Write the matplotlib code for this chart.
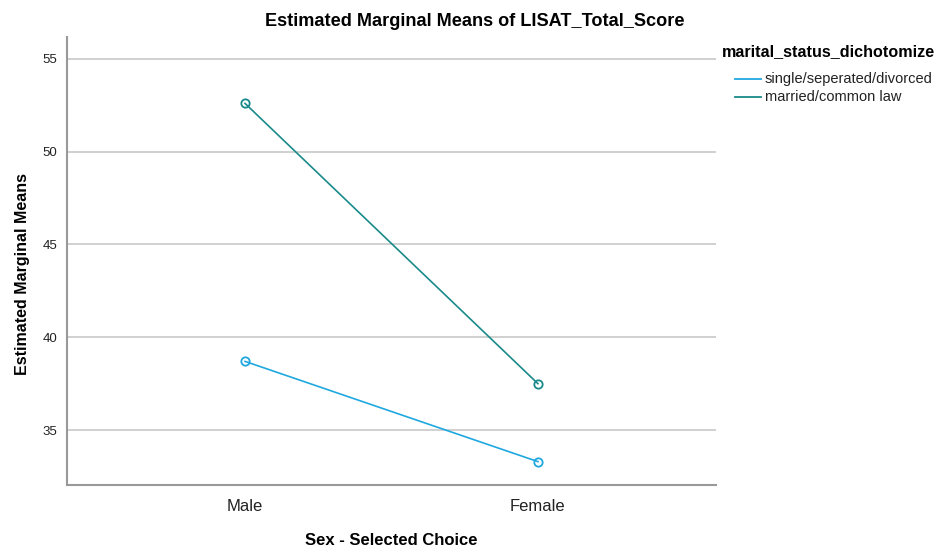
import matplotlib
matplotlib.use("Agg")
import matplotlib.pyplot as plt
from matplotlib.lines import Line2D

plt.rcParams['font.family'] = ['Liberation Sans', 'DejaVu Sans']

categories = ["Male", "Female"]
series_names = ["single/seperated/divorced", "married/common law"]
single_vals = [38.7, 33.3]
married_vals = [52.6, 37.5]
yticks = [35, 40, 45, 50, 55]

colors = ["#1FA8E0", "#1A8A8A"]

fig = plt.figure(figsize=(9.49, 5.49), dpi=100)
ax = fig.add_axes([67/949, 1-485/549, (716-67)/949, (485-37)/549])

x = list(range(len(categories)))
for vals, c in zip([single_vals, married_vals], colors):
    ax.plot(x, vals, color=c, lw=1.2, marker='o', ms=6, mfc='none', mec=c, mew=1.3)

ax.set_xlim(-0.608, 1.608)
ax.set_ylim(32.04, 56.18)
ax.set_yticks(yticks)
ax.set_yticklabels([str(t) for t in yticks], fontsize=9.5, color='#222222')
ax.set_xticks(x)
ax.set_xticklabels(categories, fontsize=12, color='#222222')
ax.tick_params(axis='both', length=0)
ax.tick_params(axis='y', pad=7)
ax.tick_params(axis='x', pad=10)
ax.grid(axis='y', color='#c8c8c8', lw=1.2)
ax.set_axisbelow(True)
for s in ['top', 'right']:
    ax.spines[s].set_visible(False)
for s in ['left', 'bottom']:
    ax.spines[s].set_color('#999999')
    ax.spines[s].set_linewidth(1.5)

ax.set_xlabel("Sex - Selected Choice", fontsize=12, fontweight='bold', labelpad=14)
ax.set_ylabel("Estimated Marginal Means", fontsize=11.5, fontweight='bold')
ax.yaxis.set_label_coords((22-67)/649, (485-274)/448)
ax.yaxis.label.set_va('center')

fig.text(475/949, 1-21/549, "Estimated Marginal Means of LISAT_Total_Score",
         ha='center', va='center', fontsize=13.1, fontweight='bold')

# legend drawn in figure pixel coordinates
def fx(px):
    return px/949
def fy(py):
    return 1-py/549

fig.text(fx(722), fy(52), "marital_status_dichotomize", ha='left', va='center',
         fontsize=11.6, fontweight='bold')
for i, (name, c) in enumerate(zip(series_names, colors)):
    yy = 79 + 18*i
    fig.add_artist(Line2D([fx(735), fx(761)], [fy(yy), fy(yy)], color=c, lw=1.3,
                          transform=fig.transFigure))
    fig.text(fx(765), fy(yy), name, ha='left', va='center', fontsize=10.5, color='#222222')

fig.savefig("out.png", dpi=100)
